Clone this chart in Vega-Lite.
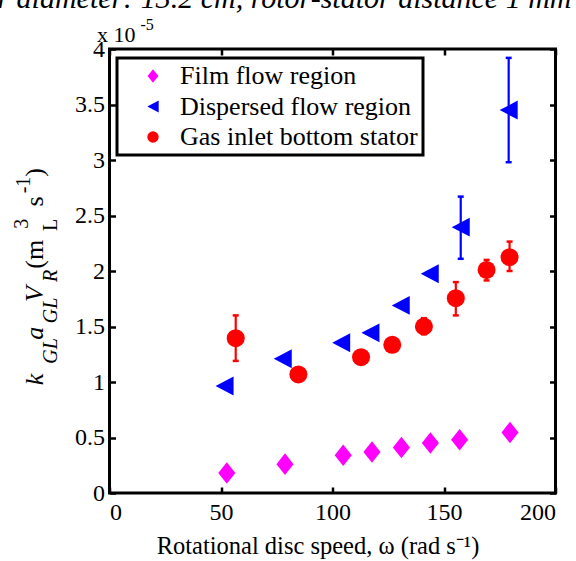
{
  "$schema": "https://vega.github.io/schema/vega-lite/v6.json",
  "width": 446,
  "height": 444,
  "autosize": {"type": "none"},
  "padding": {"left": 109.5, "top": 49, "right": 21, "bottom": 68},
  "background": "white",
  "config": {
    "view": {"stroke": "black", "strokeWidth": 3},
    "font": "Liberation Serif",
    "axis": {
      "domain": false, "grid": false,
      "tickColor": "black", "tickWidth": 2.5, "tickSize": -6,
      "labelColor": "black", "labelFont": "Liberation Serif", "labelFontSize": 24,
      "titleFont": "Liberation Serif", "titleColor": "black", "titleFontWeight": "normal", "titleFontSize": 24.5
    },
    "legend": {
      "strokeColor": "black", "strokeWidth": 3, "fillColor": "white", "padding": 5,
      "labelFont": "Liberation Serif", "labelFontSize": 26, "labelColor": "black",
      "symbolSize": 130, "symbolOffset": 18, "labelOffset": 14, "rowPadding": 4.5,
      "symbolStrokeWidth": 0, "labelLimit": 400, "cornerRadius": 0
    }
  },
  "datasets": {
    "pts": [
      {"series": "Film flow region", "omega": 52.6, "kla": 0.18},
      {"series": "Film flow region", "omega": 78.7, "kla": 0.26},
      {"series": "Film flow region", "omega": 104.8, "kla": 0.34},
      {"series": "Film flow region", "omega": 117.7, "kla": 0.37},
      {"series": "Film flow region", "omega": 130.9, "kla": 0.41},
      {"series": "Film flow region", "omega": 143.9, "kla": 0.45},
      {"series": "Film flow region", "omega": 157.0, "kla": 0.48},
      {"series": "Film flow region", "omega": 179.6, "kla": 0.545},
      {"series": "Dispersed flow region", "omega": 51.6, "kla": 0.964},
      {"series": "Dispersed flow region", "omega": 77.7, "kla": 1.209},
      {"series": "Dispersed flow region", "omega": 103.9, "kla": 1.353},
      {"series": "Dispersed flow region", "omega": 117.0, "kla": 1.443},
      {"series": "Dispersed flow region", "omega": 130.6, "kla": 1.69},
      {"series": "Dispersed flow region", "omega": 143.6, "kla": 1.975},
      {"series": "Dispersed flow region", "omega": 157.5, "kla": 2.395},
      {"series": "Dispersed flow region", "omega": 179.0, "kla": 3.45},
      {"series": "Gas inlet bottom stator", "omega": 56.6, "kla": 1.395},
      {"series": "Gas inlet bottom stator", "omega": 84.7, "kla": 1.068},
      {"series": "Gas inlet bottom stator", "omega": 112.8, "kla": 1.224},
      {"series": "Gas inlet bottom stator", "omega": 126.8, "kla": 1.335},
      {"series": "Gas inlet bottom stator", "omega": 141.0, "kla": 1.5},
      {"series": "Gas inlet bottom stator", "omega": 155.3, "kla": 1.755},
      {"series": "Gas inlet bottom stator", "omega": 169.1, "kla": 2.01},
      {"series": "Gas inlet bottom stator", "omega": 179.4, "kla": 2.125}
    ],
    "errs": [
      {"series": "Dispersed flow region", "omega": 157.5, "lo": 2.11, "hi": 2.67},
      {"series": "Dispersed flow region", "omega": 179.0, "lo": 2.98, "hi": 3.92},
      {"series": "Gas inlet bottom stator", "omega": 56.6, "lo": 1.19, "hi": 1.6},
      {"series": "Gas inlet bottom stator", "omega": 141.0, "lo": 1.43, "hi": 1.575},
      {"series": "Gas inlet bottom stator", "omega": 155.3, "lo": 1.6, "hi": 1.9},
      {"series": "Gas inlet bottom stator", "omega": 169.1, "lo": 1.915, "hi": 2.1},
      {"series": "Gas inlet bottom stator", "omega": 179.4, "lo": 2.0, "hi": 2.265}
    ],
    "one": [{}]
  },
  "layer": [
    {
      "data": {"name": "pts"},
      "mark": {"type": "point", "opacity": 0, "size": 1},
      "encoding": {
        "x": {"field": "omega", "type": "quantitative", "scale": {"domain": [0, 200], "nice": false},
          "axis": {"orient": "top", "labels": false, "title": null, "values": [0, 50, 100, 150, 200]}},
        "y": {"field": "kla", "type": "quantitative", "scale": {"domain": [0, 4], "nice": false},
          "axis": {"orient": "right", "labels": false, "title": null, "values": [0, 0.5, 1, 1.5, 2, 2.5, 3, 3.5, 4]}}
      }
    },
    {
      "data": {"name": "errs"},
      "transform": [{"filter": "datum.series === 'Dispersed flow region'"}],
      "layer": [
        {"mark": {"type": "rule", "strokeWidth": 2.2, "color": "#0000ff"},
         "encoding": {"x": {"field": "omega", "type": "quantitative", "axis": null}, "y": {"field": "lo", "type": "quantitative", "axis": null}, "y2": {"field": "hi"}}},
        {"mark": {"type": "tick", "orient": "horizontal", "size": 6, "thickness": 2.5, "opacity": 1, "color": "#0000ff"},
         "encoding": {"x": {"field": "omega", "type": "quantitative", "axis": null}, "y": {"field": "lo", "type": "quantitative", "axis": null}}},
        {"mark": {"type": "tick", "orient": "horizontal", "size": 6, "thickness": 2.5, "opacity": 1, "color": "#0000ff"},
         "encoding": {"x": {"field": "omega", "type": "quantitative", "axis": null}, "y": {"field": "hi", "type": "quantitative", "axis": null}}}
      ]
    },
    {
      "data": {"name": "errs"},
      "transform": [{"filter": "datum.series === 'Gas inlet bottom stator'"}],
      "layer": [
        {"mark": {"type": "rule", "strokeWidth": 2.2, "color": "#ff0000"},
         "encoding": {"x": {"field": "omega", "type": "quantitative", "axis": null}, "y": {"field": "lo", "type": "quantitative", "axis": null}, "y2": {"field": "hi"}}},
        {"mark": {"type": "tick", "orient": "horizontal", "size": 6, "thickness": 2.5, "opacity": 1, "color": "#ff0000"},
         "encoding": {"x": {"field": "omega", "type": "quantitative", "axis": null}, "y": {"field": "lo", "type": "quantitative", "axis": null}}},
        {"mark": {"type": "tick", "orient": "horizontal", "size": 6, "thickness": 2.5, "opacity": 1, "color": "#ff0000"},
         "encoding": {"x": {"field": "omega", "type": "quantitative", "axis": null}, "y": {"field": "hi", "type": "quantitative", "axis": null}}}
      ]
    },
    {
      "data": {"name": "pts"},
      "mark": {"type": "point", "filled": true, "opacity": 1, "size": 324, "strokeWidth": 0},
      "encoding": {
        "x": {"field": "omega", "type": "quantitative", "scale": {"domain": [0, 200], "nice": false},
          "axis": {"orient": "bottom", "values": [0, 50, 100, 150, 200], "labelPadding": 13, "title": "Rotational disc speed, ω (rad s⁻¹)", "titlePadding": 10, "titleX": 208, "titleAlign": "center"}},
        "y": {"field": "kla", "type": "quantitative", "scale": {"domain": [0, 4], "nice": false},
          "axis": {"orient": "left", "values": [0, 0.5, 1, 1.5, 2, 2.5, 3, 3.5, 4], "format": "~g", "labelPadding": 11, "title": null}},
        "color": {"field": "series", "type": "nominal",
          "scale": {"domain": ["Film flow region", "Dispersed flow region", "Gas inlet bottom stator"], "range": ["#ff00ff", "#0000ff", "#ff0000"]},
          "legend": {"title": null, "orient": "none", "legendX": 7.5, "legendY": 9}},
        "shape": {"field": "series", "type": "nominal",
          "scale": {"domain": ["Film flow region", "Dispersed flow region", "Gas inlet bottom stator"], "range": ["M0,-1.2L0.95,0L0,1.2L-0.95,0Z", "M-1,0L1,-1.05L1,1.05Z", "circle"]},
          "legend": {"title": null, "orient": "none", "legendX": 7.5, "legendY": 9}}
      }
    },
    {
      "data": {"name": "one"},
      "mark": {"type": "text", "text": "Rotor diameter: 13.2 cm, rotor-stator distance 1 mm", "align": "right", "baseline": "alphabetic", "dx": 16, "dy": -41, "fontSize": 30, "fontStyle": "italic", "font": "Liberation Serif", "color": "black"},
      "encoding": {"x": {"datum": 200, "type": "quantitative", "axis": null}, "y": {"datum": 4, "type": "quantitative", "axis": null}}
    },
    {
      "data": {"name": "one"},
      "mark": {"type": "text", "text": "x 10", "align": "left", "baseline": "alphabetic", "dx": -12.5, "dy": -7.5, "fontSize": 22, "font": "Liberation Serif", "color": "black"},
      "encoding": {"x": {"datum": 0, "type": "quantitative", "axis": null}, "y": {"datum": 4, "type": "quantitative", "axis": null}}
    },
    {
      "data": {"name": "one"},
      "mark": {"type": "text", "text": "-5", "align": "left", "baseline": "alphabetic", "dx": 31, "dy": -19, "fontSize": 16, "font": "Liberation Serif", "color": "black"},
      "encoding": {"x": {"datum": 0, "type": "quantitative", "axis": null}, "y": {"datum": 4, "type": "quantitative", "axis": null}}
    },
    {
      "data": {"name": "one"},
      "mark": {"type": "text", "text": "k", "angle": 270, "align": "left", "baseline": "alphabetic", "dy": -66.5, "fontSize": 26, "fontStyle": "italic", "font": "Liberation Serif", "color": "black"},
      "encoding": {"x": {"datum": 0, "type": "quantitative", "axis": null}, "y": {"datum": 0.97, "type": "quantitative", "axis": null}}
    },
    {
      "data": {"name": "one"},
      "mark": {"type": "text", "text": "GL", "angle": 270, "align": "left", "baseline": "alphabetic", "dy": -52.5, "fontSize": 20, "fontStyle": "italic", "font": "Liberation Serif", "color": "black"},
      "encoding": {"x": {"datum": 0, "type": "quantitative", "axis": null}, "y": {"datum": 1.164, "type": "quantitative", "axis": null}}
    },
    {
      "data": {"name": "one"},
      "mark": {"type": "text", "text": "a", "angle": 270, "align": "left", "baseline": "alphabetic", "dy": -66.5, "fontSize": 26, "fontStyle": "italic", "font": "Liberation Serif", "color": "black"},
      "encoding": {"x": {"datum": 0, "type": "quantitative", "axis": null}, "y": {"datum": 1.38, "type": "quantitative", "axis": null}}
    },
    {
      "data": {"name": "one"},
      "mark": {"type": "text", "text": "GL", "angle": 270, "align": "left", "baseline": "alphabetic", "dy": -52.5, "fontSize": 20, "fontStyle": "italic", "font": "Liberation Serif", "color": "black"},
      "encoding": {"x": {"datum": 0, "type": "quantitative", "axis": null}, "y": {"datum": 1.53, "type": "quantitative", "axis": null}}
    },
    {
      "data": {"name": "one"},
      "mark": {"type": "text", "text": "V", "angle": 270, "align": "left", "baseline": "alphabetic", "dy": -66.5, "fontSize": 26, "fontStyle": "italic", "font": "Liberation Serif", "color": "black"},
      "encoding": {"x": {"datum": 0, "type": "quantitative", "axis": null}, "y": {"datum": 1.72, "type": "quantitative", "axis": null}}
    },
    {
      "data": {"name": "one"},
      "mark": {"type": "text", "text": "R", "angle": 270, "align": "left", "baseline": "alphabetic", "dy": -52.5, "fontSize": 20, "fontStyle": "italic", "font": "Liberation Serif", "color": "black"},
      "encoding": {"x": {"datum": 0, "type": "quantitative", "axis": null}, "y": {"datum": 1.9, "type": "quantitative", "axis": null}}
    },
    {
      "data": {"name": "one"},
      "mark": {"type": "text", "text": "(m", "angle": 270, "align": "left", "baseline": "alphabetic", "dy": -66.5, "fontSize": 26, "font": "Liberation Serif", "color": "black"},
      "encoding": {"x": {"datum": 0, "type": "quantitative", "axis": null}, "y": {"datum": 2.02, "type": "quantitative", "axis": null}}
    },
    {
      "data": {"name": "one"},
      "mark": {"type": "text", "text": "L", "angle": 270, "align": "left", "baseline": "alphabetic", "dy": -52.5, "fontSize": 20, "font": "Liberation Serif", "color": "black"},
      "encoding": {"x": {"datum": 0, "type": "quantitative", "axis": null}, "y": {"datum": 2.36, "type": "quantitative", "axis": null}}
    },
    {
      "data": {"name": "one"},
      "mark": {"type": "text", "text": "3", "angle": 270, "align": "left", "baseline": "alphabetic", "dy": -82, "fontSize": 20, "font": "Liberation Serif", "color": "black"},
      "encoding": {"x": {"datum": 0, "type": "quantitative", "axis": null}, "y": {"datum": 2.38, "type": "quantitative", "axis": null}}
    },
    {
      "data": {"name": "one"},
      "mark": {"type": "text", "text": "s", "angle": 270, "align": "left", "baseline": "alphabetic", "dy": -66.5, "fontSize": 26, "font": "Liberation Serif", "color": "black"},
      "encoding": {"x": {"datum": 0, "type": "quantitative", "axis": null}, "y": {"datum": 2.58, "type": "quantitative", "axis": null}}
    },
    {
      "data": {"name": "one"},
      "mark": {"type": "text", "text": "-1", "angle": 270, "align": "left", "baseline": "alphabetic", "dy": -80, "fontSize": 20, "font": "Liberation Serif", "color": "black"},
      "encoding": {"x": {"datum": 0, "type": "quantitative", "axis": null}, "y": {"datum": 2.70, "type": "quantitative", "axis": null}}
    },
    {
      "data": {"name": "one"},
      "mark": {"type": "text", "text": ")", "angle": 270, "align": "left", "baseline": "alphabetic", "dy": -66.5, "fontSize": 26, "font": "Liberation Serif", "color": "black"},
      "encoding": {"x": {"datum": 0, "type": "quantitative", "axis": null}, "y": {"datum": 2.85, "type": "quantitative", "axis": null}}
    }
  ],
  "resolve": {"axis": {"x": "independent", "y": "independent"}}
}
